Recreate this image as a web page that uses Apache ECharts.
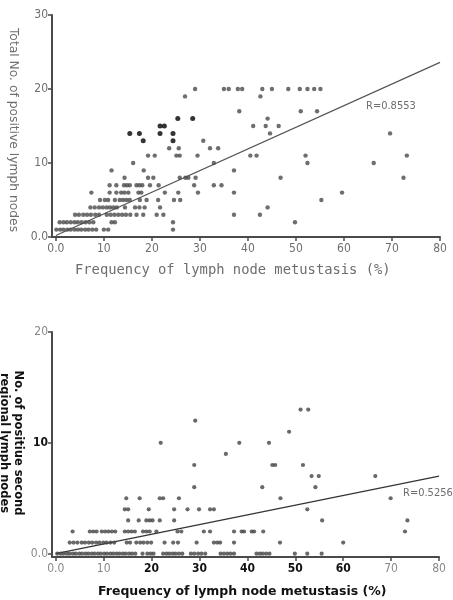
<!DOCTYPE html>
<html>
<head>
<meta charset="utf-8">
<script src="https://cdn.jsdelivr.net/npm/echarts@6/dist/echarts.min.js"></script>
<style>
  html, body { margin: 0; padding: 0; background: #fff; }
  #chart { width: 453px; height: 600px; }
</style>
</head>
<body>
<div id="chart"></div>
<script>
// Tick positions shared by both panels
const freqTicks = [0, 10, 20, 30, 40, 50, 60, 70, 80];
const totalTicks = [0, 10, 20, 30];
const secondTicks = [0, 10, 20];

// Upper panel: total number of positive lymph nodes vs. frequency of metastasis
const totalPoints = [
  [29.0, 20], [35.0, 20], [36.0, 20], [37.9, 20], [38.8, 20], [43.0, 20], [45.0, 20], [48.4, 20], [50.8, 20], [52.4, 20], [53.8, 20], [55.1, 20],
  [26.9, 19], [42.6, 19],
  [38.2, 17], [51.0, 17], [54.4, 17],
  [44.1, 16],
  [41.1, 15], [43.7, 15], [46.4, 15],
  [44.6, 14], [69.6, 14],
  [30.7, 13],
  [23.6, 12], [25.6, 12], [32.1, 12], [33.8, 12],
  [19.2, 11], [20.6, 11], [25.1, 11], [25.8, 11], [29.5, 11], [40.5, 11], [41.8, 11], [52.0, 11], [73.1, 11],
  [16.1, 10], [32.9, 10], [52.4, 10], [66.2, 10],
  [11.6, 9], [18.3, 9], [37.1, 9],
  [14.3, 8], [19.2, 8], [20.3, 8], [25.8, 8], [27.0, 8], [27.6, 8], [29.1, 8], [46.8, 8], [72.4, 8],
  [11.2, 7], [12.6, 7], [14.2, 7], [14.8, 7], [15.4, 7], [16.8, 7], [17.4, 7], [18.0, 7], [19.6, 7], [21.4, 7], [28.8, 7], [32.9, 7], [34.5, 7],
  [7.4, 6], [11.2, 6], [12.6, 6], [13.6, 6], [14.3, 6], [15.1, 6], [17.2, 6], [17.8, 6], [22.7, 6], [25.5, 6], [29.6, 6], [37.1, 6], [59.6, 6],
  [9.2, 5], [10.2, 5], [10.9, 5], [12.3, 5], [13.3, 5], [14.0, 5], [14.7, 5], [15.4, 5], [17.5, 5], [18.9, 5], [21.3, 5], [24.6, 5], [25.9, 5], [55.3, 5],
  [7.2, 4], [8.1, 4], [9.0, 4], [9.8, 4], [10.6, 4], [11.3, 4], [12.0, 4], [12.7, 4], [14.4, 4], [16.5, 4], [17.4, 4], [18.5, 4], [21.7, 4], [44.1, 4],
  [4.0, 3], [4.8, 3], [5.7, 3], [6.5, 3], [7.3, 3], [8.2, 3], [9.0, 3], [10.6, 3], [11.4, 3], [12.2, 3], [13.0, 3], [13.8, 3], [14.6, 3], [15.5, 3], [16.8, 3], [18.2, 3], [21.0, 3], [22.4, 3], [37.1, 3], [42.5, 3],
  [0.8, 2], [1.6, 2], [2.3, 2], [3.1, 2], [3.9, 2], [4.6, 2], [5.4, 2], [6.2, 2], [7.0, 2], [7.8, 2], [11.6, 2], [12.3, 2], [24.4, 2], [49.8, 2],
  [0.1, 1], [0.9, 1], [1.6, 1], [2.4, 1], [3.1, 1], [3.9, 1], [4.6, 1], [5.3, 1], [6.1, 1], [6.8, 1], [7.6, 1], [8.4, 1], [10.0, 1], [10.9, 1], [24.4, 1]
];
// Cases drawn as solid black dots
const totalHighlight = [
  [15.4, 14], [17.4, 14], [18.2, 13], [21.7, 15], [22.6, 15],
  [21.7, 14], [24.4, 14], [24.4, 13], [25.4, 16], [28.5, 16]
];
const totalFit = [[0, 0.2], [80, 23.6]];
const totalR = 'R=0.8553';

// Lower panel: positive second-tier regional lymph nodes
const secondPoints = [
  [51.1, 13], [52.7, 13],
  [29.1, 12],
  [48.7, 11],
  [21.9, 10], [38.3, 10], [44.5, 10],
  [35.5, 9],
  [28.9, 8], [45.2, 8], [45.8, 8], [51.6, 8],
  [53.4, 7], [54.9, 7], [66.7, 7],
  [28.9, 6], [43.1, 6], [54.2, 6],
  [14.7, 5], [17.5, 5], [21.7, 5], [22.4, 5], [25.7, 5], [46.9, 5], [69.9, 5],
  [14.4, 4], [15.1, 4], [19.4, 4], [24.7, 4], [27.5, 4], [29.9, 4], [32.2, 4], [33.0, 4], [52.5, 4],
  [15.1, 3], [17.3, 3], [18.9, 3], [19.6, 3], [20.2, 3], [21.7, 3], [24.7, 3], [55.6, 3], [73.4, 3],
  [3.5, 2], [7.1, 2], [7.8, 2], [8.5, 2], [9.6, 2], [10.3, 2], [11.0, 2], [11.7, 2], [12.4, 2], [14.4, 2], [15.1, 2], [15.8, 2], [16.5, 2], [18.2, 2], [18.9, 2], [19.6, 2], [21.0, 2], [25.4, 2], [26.2, 2], [30.9, 2], [32.2, 2], [37.2, 2], [38.8, 2], [39.3, 2], [40.9, 2], [41.4, 2], [43.3, 2], [72.9, 2],
  [2.9, 1], [3.7, 1], [4.5, 1], [5.4, 1], [6.1, 1], [6.9, 1], [7.6, 1], [8.4, 1], [9.1, 1], [9.9, 1], [10.6, 1], [11.4, 1], [12.2, 1], [14.8, 1], [15.5, 1], [16.8, 1], [17.6, 1], [18.3, 1], [19.1, 1], [19.9, 1], [22.7, 1], [24.5, 1], [25.5, 1], [29.4, 1], [33.0, 1], [33.7, 1], [34.3, 1], [37.2, 1], [46.8, 1], [60.0, 1],
  [0.3, 0], [1.0, 0], [1.6, 0], [2.3, 0], [2.9, 0], [3.6, 0], [4.2, 0], [4.9, 0], [5.5, 0], [6.2, 0], [6.8, 0], [7.5, 0], [8.1, 0], [8.8, 0], [9.4, 0], [10.1, 0], [10.7, 0], [11.4, 0], [12.0, 0], [12.7, 0], [13.3, 0], [14.0, 0], [14.6, 0], [15.3, 0], [15.9, 0], [16.6, 0], [18.1, 0], [19.1, 0], [19.8, 0], [20.4, 0], [22.4, 0], [23.1, 0], [23.7, 0], [24.4, 0], [25.0, 0], [25.7, 0], [26.4, 0], [28.2, 0], [28.9, 0], [29.7, 0], [30.4, 0], [31.2, 0], [34.4, 0], [35.1, 0], [35.8, 0], [36.5, 0], [37.2, 0], [41.9, 0], [42.6, 0], [43.2, 0], [43.9, 0], [44.6, 0], [49.9, 0], [52.5, 0], [55.5, 0]
];
const secondFit = [[0, 0], [80, 7.0]];
const secondR = 'R=0.5256';

const xTitle = 'Frequency of lymph node metustasis (%)';
const yTitleTop = 'Total No. of positive lymph nodes';
const yTitleBottom = 'No. of positiue second\nregional lymph nodes';

const narrow = '"Liberation Sans Narrow", "DejaVu Sans Condensed", sans-serif';
const mono = '"DejaVu Sans Mono", monospace';
const sans = '"DejaVu Sans", sans-serif';
const grayText = '#6e6e6e';
const axisColor = '#4a4a4a';

function fmtTick(v) { return v === 0 ? '0.0' : String(v); }

function axisBase(ticks) {
  return {
    axisLine: { show: true, onZero: false, lineStyle: { color: axisColor, width: 2 } },
    axisTick: { show: true, customValues: ticks, length: 4, lineStyle: { color: axisColor, width: 1.5 } },
    splitLine: { show: false }
  };
}

// Lower panel labels: middle values printed heavier
const boldFreq = [20, 30, 40, 50, 60];
const lowerRich = {
  g: { fontFamily: narrow, fontSize: 12, color: '#888' },
  b: { fontFamily: narrow, fontSize: 12, fontWeight: 'bold', color: '#111' }
};

const chart = echarts.init(document.getElementById('chart'), null, { renderer: 'canvas' });
chart.setOption({
  backgroundColor: '#fff',
  animation: false,
  grid: [
    { left: 52, right: 13, top: 15, height: 222 },
    { left: 52, right: 14, top: 332, height: 225 }
  ],
  xAxis: [
    Object.assign(axisBase(freqTicks), {
      type: 'value', gridIndex: 0, min: -0.8, max: 80,
      axisLabel: { customValues: freqTicks, formatter: fmtTick, margin: 6, fontFamily: narrow, fontSize: 12, color: grayText }
    }),
    Object.assign(axisBase(freqTicks), {
      type: 'value', gridIndex: 1, min: -0.8, max: 80,
      axisLabel: {
        customValues: freqTicks, margin: 6, rich: lowerRich,
        formatter: v => (boldFreq.includes(v) ? '{b|' : '{g|') + fmtTick(v) + '}'
      }
    })
  ],
  yAxis: [
    Object.assign(axisBase(totalTicks), {
      type: 'value', gridIndex: 0, min: 0, max: 30,
      axisLabel: { customValues: totalTicks, formatter: fmtTick, margin: 4, fontFamily: narrow, fontSize: 12, color: grayText }
    }),
    Object.assign(axisBase(secondTicks), {
      type: 'value', gridIndex: 1, min: -0.3, max: 20,
      axisLabel: {
        customValues: secondTicks, margin: 4, rich: lowerRich,
        formatter: v => (v === 10 ? '{b|' : '{g|') + fmtTick(v) + '}'
      }
    })
  ],
  series: [
    {
      type: 'line', xAxisIndex: 0, yAxisIndex: 0, data: totalFit, symbol: 'none',
      lineStyle: { color: '#555', width: 1.2 }, z: 1
    },
    {
      type: 'scatter', xAxisIndex: 0, yAxisIndex: 0, data: totalPoints,
      symbol: 'circle', symbolSize: 4.4, itemStyle: { color: '#4a4a4a' }, z: 2
    },
    {
      type: 'scatter', xAxisIndex: 0, yAxisIndex: 0, data: totalHighlight,
      symbol: 'circle', symbolSize: 5, itemStyle: { color: '#000' }, z: 3
    },
    {
      type: 'line', xAxisIndex: 1, yAxisIndex: 1, data: secondFit, symbol: 'none',
      lineStyle: { color: '#333', width: 1.2 }, z: 1
    },
    {
      type: 'scatter', xAxisIndex: 1, yAxisIndex: 1, data: secondPoints,
      symbol: 'circle', symbolSize: 4.2, itemStyle: { color: '#444' }, z: 2
    }
  ],
  graphic: [
    {
      type: 'text', left: 75, top: 263,
      style: { text: xTitle, fontFamily: mono, fontSize: 13.8, fill: grayText }
    },
    {
      type: 'text', x: 13, y: 130, rotation: -Math.PI / 2,
      style: { text: yTitleTop, fontFamily: sans, fontSize: 12.3, fill: grayText, align: 'center', verticalAlign: 'middle' }
    },
    {
      type: 'text', left: 366, top: 101,
      style: { text: totalR, fontFamily: narrow, fontSize: 11, fill: grayText }
    },
    {
      type: 'text', left: 98, top: 585,
      style: { text: xTitle, fontFamily: sans, fontSize: 12.5, fontWeight: 'bold', fill: '#111' }
    },
    {
      type: 'text', x: 10.5, y: 443, rotation: -Math.PI / 2,
      style: { text: yTitleBottom, fontFamily: sans, fontSize: 11.5, fontWeight: 'bold', lineHeight: 14, fill: '#111', align: 'center', verticalAlign: 'middle' }
    },
    {
      type: 'text', left: 403, top: 488,
      style: { text: secondR, fontFamily: narrow, fontSize: 11, fill: grayText }
    }
  ]
});
</script>
</body>
</html>
